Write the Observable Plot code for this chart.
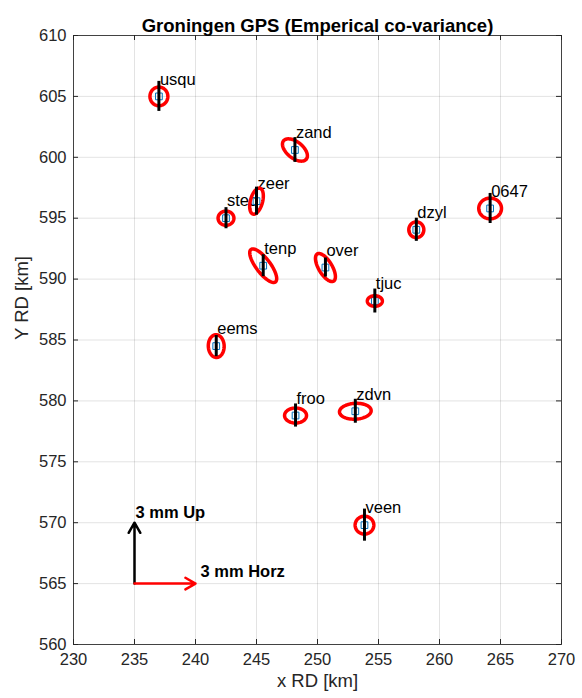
<!DOCTYPE html>
<html>
<head>
<meta charset="utf-8">
<script src="https://cdn.jsdelivr.net/npm/d3@7"></script>
<script src="https://cdn.jsdelivr.net/npm/@observablehq/plot@0.6"></script>
<style>
  html, body { margin: 0; padding: 0; background: #fff; }
  #chart svg { display: block; }
</style>
</head>
<body>
<div id="chart"></div>
<script>
// ---- data ----
const stationNames = ["usqu","zand","zeer","sted","dzyl","0647","tenp","over","tjuc","eems","froo","zdvn","veen"];
const xRD   = [237.0, 248.15, 245.0, 242.5, 258.1, 264.15, 245.55, 250.65, 254.7, 241.7, 248.2, 253.1, 253.85];
const yRD   = [605.0, 600.6, 596.4, 595.0, 594.05, 595.8, 591.1, 590.95, 588.2, 584.5, 578.8, 579.15, 569.8];
// horizontal error ellipse (mm): semi-major, semi-minor, orientation of major axis (deg from east)
const sigMajor = [0.46, 0.72, 0.66, 0.39, 0.39, 0.56, 1.00, 0.78, 0.37, 0.56, 0.54, 0.78, 0.46];
const sigMinor = [0.44, 0.40, 0.30, 0.35, 0.37, 0.51, 0.35, 0.33, 0.26, 0.39, 0.37, 0.39, 0.44];
const orientDeg = [90, 141, 75, 0, 90, 0, 127, 121, 0, 92, 0, 3, 0];
// vertical (up) standard deviation (mm)
const sigUp = [0.74, 0.61, 0.69, 0.52, 0.57, 0.74, 0.54, 0.47, 0.59, 0.52, 0.57, 0.59, 0.79];

// reference arrows: 3 mm drawn as 5 km
const refMm = 3;
const kmPerMm = 5 / 3;
const refOrigin = {x: 235, y: 565};
const refUpLabel = "3 mm Up";
const refHorzLabel = "3 mm Horz";

const xTicks = [230, 235, 240, 245, 250, 255, 260, 265, 270];
const yTicks = [560, 565, 570, 575, 580, 585, 590, 595, 600, 605, 610];
const xDomain = [230, 270];
const yDomain = [560, 610];

const titleText = "Groningen GPS (Emperical co-variance)";
const xLabel = "x RD [km]";
const yLabel = "Y RD [km]";

// ---- derived tables ----
const stations = stationNames.map((name, i) => ({
  name, x: xRD[i], y: yRD[i], a: sigMajor[i], b: sigMinor[i], th: orientDeg[i], up: sigUp[i]
}));

const ellipsePts = [];
stations.forEach(s => {
  const th = s.th * Math.PI / 180;
  for (let k = 0; k < 72; k++) {
    const t = k / 72 * 2 * Math.PI;
    const u = s.a * kmPerMm * Math.cos(t), v = s.b * kmPerMm * Math.sin(t);
    ellipsePts.push({name: s.name, x: s.x + u * Math.cos(th) - v * Math.sin(th), y: s.y + u * Math.sin(th) + v * Math.cos(th)});
  }
});

const refArrow = [{x1: refOrigin.x, y1: refOrigin.y, len: refMm * kmPerMm}];

const axisColor = "#262626";
const fs = 16.5;

const chart = Plot.plot({
  width: 582,
  height: 698,
  marginLeft: 73,
  marginRight: 21,
  marginTop: 35,
  marginBottom: 54,
  x: {domain: xDomain},
  y: {domain: yDomain},
  style: {fontFamily: "'Liberation Sans', Arial, Helvetica, sans-serif", background: "#fff", overflow: "visible"},
  marks: [
    Plot.gridX(xTicks, {stroke: axisColor, strokeOpacity: 0.13}),
    Plot.gridY(yTicks, {stroke: axisColor, strokeOpacity: 0.13}),
    // inward ticks on all four sides
    Plot.ruleX(xTicks, {x: d => d, insetTop: 604, stroke: axisColor}),
    Plot.ruleX(xTicks, {x: d => d, insetBottom: 604, stroke: axisColor}),
    Plot.ruleY(yTicks, {y: d => d, insetRight: 483, stroke: axisColor}),
    Plot.ruleY(yTicks, {y: d => d, insetLeft: 483, stroke: axisColor}),
    Plot.frame({stroke: axisColor, strokeOpacity: 0.85}),
    Plot.axisX(xTicks, {anchor: "bottom", tickSize: 0, tickPadding: 9, fontSize: fs, label: null, fill: axisColor}),
    Plot.axisY(yTicks, {anchor: "left", tickSize: 0, tickPadding: 7, fontSize: fs, label: null, fill: axisColor}),
    // title and axis labels
    Plot.text([titleText], {text: d => d, frameAnchor: "top", dy: -17, fontSize: 18.5, fontWeight: "bold", fill: "#000"}),
    Plot.text([xLabel], {text: d => d, frameAnchor: "bottom", dy: 42, fontSize: 18.5, fill: axisColor}),
    Plot.text([yLabel], {text: d => d, frameAnchor: "left", dx: -51, rotate: -90, fontSize: 18.5, fill: axisColor}),
    // station labels (under the symbols)
    Plot.text(stations, {x: "x", y: "y", text: "name", textAnchor: "start", dx: 1, dy: -17, fontSize: fs, fill: "#000"}),
    // station markers
    Plot.dot(stations, {x: "x", y: "y", symbol: "square", r: 3.8, stroke: "#0072BD", strokeWidth: 1, fill: "none"}),
    // error ellipses
    Plot.line(ellipsePts, {x: "x", y: "y", z: "name", curve: "linear-closed", stroke: "#ff0000", strokeWidth: 3.5}),
    // vertical error bars
    Plot.ruleX(stations, {x: "x", y1: d => d.y - d.up * kmPerMm, y2: d => d.y + d.up * kmPerMm, stroke: "#000", strokeWidth: 3}),
    // reference arrows
    Plot.arrow(refArrow, {x1: "x1", y1: "y1", x2: "x1", y2: d => d.y1 + d.len, stroke: "#000", strokeWidth: 2.5, headLength: 7}),
    Plot.arrow(refArrow, {x1: "x1", y1: "y1", x2: d => d.x1 + d.len, y2: "y1", stroke: "#ff0000", strokeWidth: 2.5, headLength: 7}),
    Plot.text(refArrow, {x: "x1", y: d => d.y1 + d.len, text: () => refUpLabel, textAnchor: "start", dx: 1, dy: -10, fontSize: fs, fontWeight: "bold", fill: "#000"}),
    Plot.text(refArrow, {x: d => d.x1 + d.len, y: "y1", text: () => refHorzLabel, textAnchor: "start", dx: 5, dy: -12, fontSize: fs, fontWeight: "bold", fill: "#000"})
  ]
});

document.getElementById("chart").appendChild(chart);
</script>
</body>
</html>
